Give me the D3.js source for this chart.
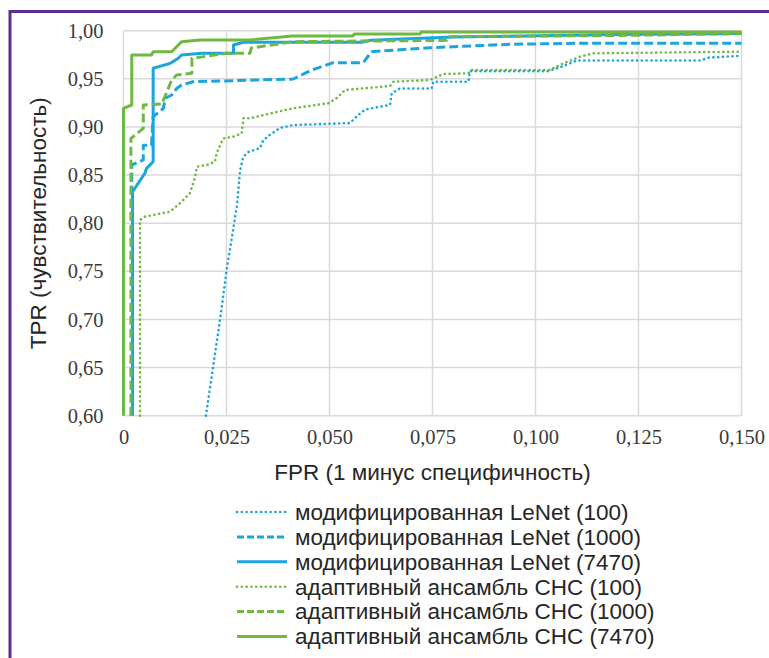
<!DOCTYPE html>
<html>
<head>
<meta charset="utf-8">
<script src="https://cdn.jsdelivr.net/npm/d3@7"></script>
<style>
  html, body { margin: 0; padding: 0; background: #fff; }
  svg { display: block; }
</style>
</head>
<body>
<div id="chart"></div>
<script>
// ROC curves, FPR vs TPR
const lenet100 = [[0.0200,0.600],[0.0234,0.699],[0.0250,0.750],[0.0267,0.796],[0.0275,0.817],[0.0283,0.855],
  [0.0291,0.869],[0.0303,0.874],[0.0331,0.878],[0.0339,0.886],[0.0356,0.892],[0.0380,0.899],[0.0412,0.902],
  [0.0550,0.904],[0.0566,0.911],[0.0586,0.918],[0.0647,0.923],[0.0651,0.935],[0.0671,0.940],[0.0748,0.940],
  [0.0752,0.947],[0.0837,0.947],[0.0841,0.958],[0.1030,0.958],[0.1060,0.962],[0.1100,0.969],[0.1400,0.969],
  [0.1420,0.972],[0.1500,0.974]];
const lenet1000 = [[0.0020,0.600],[0.0020,0.8605],[0.0048,0.8657],[0.0048,0.881],[0.0068,0.881],[0.0072,0.9107],
  [0.0077,0.9124],[0.0097,0.9194],[0.0101,0.9298],[0.0117,0.9332],[0.0129,0.940],[0.0141,0.9436],[0.0169,0.947],
  [0.0234,0.9477],[0.0412,0.9498],[0.0457,0.9592],[0.0509,0.9668],[0.0582,0.9668],[0.0602,0.9782],[0.0744,0.9823],
  [0.0938,0.9859],[0.1100,0.9869],[0.1500,0.9869]];
const lenet7470 = [[0.0022,0.600],[0.0022,0.8327],[0.0052,0.852],[0.0056,0.857],[0.0072,0.864],[0.0072,0.961],
  [0.0113,0.966],[0.0133,0.9713],[0.0141,0.9748],[0.0190,0.9765],[0.0267,0.9765],[0.0267,0.9851],[0.0291,0.988],
  [0.0578,0.988],[0.0600,0.990],[0.0800,0.9935],[0.1200,0.996],[0.1500,0.997]];
const chc100 = [[0.0040,0.600],[0.0040,0.8033],[0.0052,0.8068],[0.0113,0.812],[0.0137,0.8207],[0.0161,0.831],
  [0.0169,0.8415],[0.0174,0.848],[0.0178,0.8587],[0.0202,0.8605],[0.0222,0.864],[0.0226,0.8726],[0.0242,0.888],
  [0.0267,0.890],[0.0287,0.8934],[0.0291,0.909],[0.0307,0.909],[0.0356,0.914],[0.0412,0.9194],[0.0497,0.9246],
  [0.0517,0.9298],[0.0538,0.9384],[0.0647,0.9425],[0.0655,0.947],[0.0744,0.9488],[0.0776,0.955],[0.0837,0.9557],
  [0.0845,0.9592],[0.1035,0.9592],[0.1059,0.9644],[0.1108,0.973],[0.1140,0.9765],[0.1500,0.9782]];
const chc1000 = [[0.0018,0.600],[0.0018,0.888],[0.0048,0.8986],[0.0048,0.9228],[0.0093,0.9238],[0.0117,0.9488],
  [0.0129,0.954],[0.0166,0.9557],[0.0166,0.9713],[0.0250,0.9765],[0.0307,0.9765],[0.0310,0.982],[0.0412,0.9886],
  [0.0785,0.990],[0.0790,0.9938],[0.1200,0.995],[0.1500,0.997]];
const chc7470 = [[0,0.600],[0,0.9194],[0.0020,0.9228],[0.0020,0.9748],[0.0068,0.9748],[0.0072,0.9782],
  [0.0117,0.9782],[0.0141,0.9886],[0.0186,0.9903],[0.0306,0.9903],[0.0410,0.9945],[0.0557,0.9945],
  [0.0560,0.9966],[0.0720,0.9966],[0.0722,0.9986],[0.1500,0.9986]];

const seriesNames = ["модифицированная LeNet (100)", "модифицированная LeNet (1000)", "модифицированная LeNet (7470)",
  "адаптивный ансамбль СНС (100)", "адаптивный ансамбль СНС (1000)", "адаптивный ансамбль СНС (7470)"];
const seriesData = [lenet100, lenet1000, lenet7470, chc100, chc1000, chc7470];
const xTicks = [0, 0.025, 0.05, 0.075, 0.1, 0.125, 0.15];
const yTicks = [0.60, 0.65, 0.70, 0.75, 0.80, 0.85, 0.90, 0.95, 1.00];
const xTitle = "FPR (1 минус специфичность)";
const yTitle = "TPR (чувствительность)";

const blue = "#1ca5dd", green = "#6fb942";
const styles = [
  { color: blue, dash: "0.1,4.7", cap: "round", width: 2.6 },
  { color: blue, dash: "9,4", cap: "butt", width: 3 },
  { color: blue, dash: null, cap: "butt", width: 3 },
  { color: green, dash: "0.1,4.7", cap: "round", width: 2.6 },
  { color: green, dash: "9,4", cap: "butt", width: 3 },
  { color: green, dash: null, cap: "butt", width: 3 }
];

const SERIF = "Liberation Serif";
const SANS = "Liberation Sans";

const W = 769, H = 658;
const plot = { left: 123.5, right: 741.5, top: 30.7, bottom: 415.7 };

const svg = d3.select("#chart").append("svg")
  .attr("width", W)
  .attr("height", H);

// purple frame (left and top edges only are visible)
svg.append("path")
  .attr("d", `M10,${H} L10,11.5 L${W},11.5`)
  .attr("fill", "none")
  .attr("stroke", "#5b2d90")
  .attr("stroke-width", 3);

const x = d3.scaleLinear().domain([0, 0.15]).range([plot.left, plot.right]);
const y = d3.scaleLinear().domain([0.6, 1.0]).range([plot.bottom, plot.top]);

const fmt = (d, n) => d === 0 ? "0" : d.toFixed(n).replace(".", ",");

// grid
const grid = svg.append("g")
  .attr("stroke", "#d9d9d9")
  .attr("stroke-width", 1.5);
grid.selectAll("line.h").data(yTicks).join("line")
  .attr("class", "h")
  .attr("x1", plot.left).attr("x2", plot.right)
  .attr("y1", d => y(d)).attr("y2", d => y(d));
grid.selectAll("line.v").data(xTicks).join("line")
  .attr("class", "v")
  .attr("x1", d => x(d)).attr("x2", d => x(d))
  .attr("y1", plot.top).attr("y2", plot.bottom);

// axes, only for labels
const yAxis = svg.append("g")
  .attr("transform", `translate(${plot.left - 20},0)`)
  .call(d3.axisLeft(y).tickValues(yTicks).tickFormat(d => fmt(d, 2)).tickSize(0).tickPadding(0));
const xAxis = svg.append("g")
  .attr("transform", `translate(0,${plot.bottom + 14})`)
  .call(d3.axisBottom(x).tickValues(xTicks).tickFormat(d => fmt(d, 3)).tickSize(0).tickPadding(0));
[yAxis, xAxis].forEach(a => {
  a.select(".domain").remove();
  a.attr("font-family", SERIF).attr("font-size", 20.5);
  a.selectAll("text")
    .attr("font-family", SERIF)
    .attr("font-size", 20.5)
    .attr("fill", "#3a3a3a");
});

svg.append("text")
  .attr("x", (plot.left + plot.right) / 2)
  .attr("y", 480)
  .attr("text-anchor", "middle")
  .attr("font-family", SANS)
  .attr("font-size", 22.5)
  .attr("fill", "#262626")
  .text(xTitle);

svg.append("text")
  .attr("transform", `translate(46,${(plot.top + plot.bottom) / 2}) rotate(-90)`)
  .attr("text-anchor", "middle")
  .attr("font-family", SANS)
  .attr("font-size", 22.5)
  .attr("fill", "#262626")
  .text(yTitle);

// curves
const line = d3.line().x(d => x(d[0])).y(d => y(d[1]));
svg.append("g").selectAll("path").data(seriesData).join("path")
  .attr("d", line)
  .attr("fill", "none")
  .attr("stroke", (d, i) => styles[i].color)
  .attr("stroke-width", (d, i) => styles[i].width)
  .attr("stroke-linecap", (d, i) => styles[i].cap)
  .attr("stroke-linejoin", "round")
  .attr("stroke-dasharray", (d, i) => styles[i].dash);

// legend
const legend = svg.append("g");
const rows = legend.selectAll("g").data(seriesNames).join("g")
  .attr("transform", (d, i) => `translate(237,${512 + i * 24.9})`);
rows.append("line")
  .attr("x1", 0).attr("x2", 50)
  .attr("stroke", (d, i) => styles[i].color)
  .attr("stroke-width", (d, i) => styles[i].width)
  .attr("stroke-linecap", (d, i) => styles[i].cap)
  .attr("stroke-dasharray", (d, i) => styles[i].dash === "9,4" ? "7,3" : styles[i].dash);
rows.append("text")
  .attr("x", 58)
  .attr("dy", "0.35em")
  .attr("font-family", SANS)
  .attr("font-size", 22.5)
  .attr("fill", "#262626")
  .text(d => d);
</script>
</body>
</html>
